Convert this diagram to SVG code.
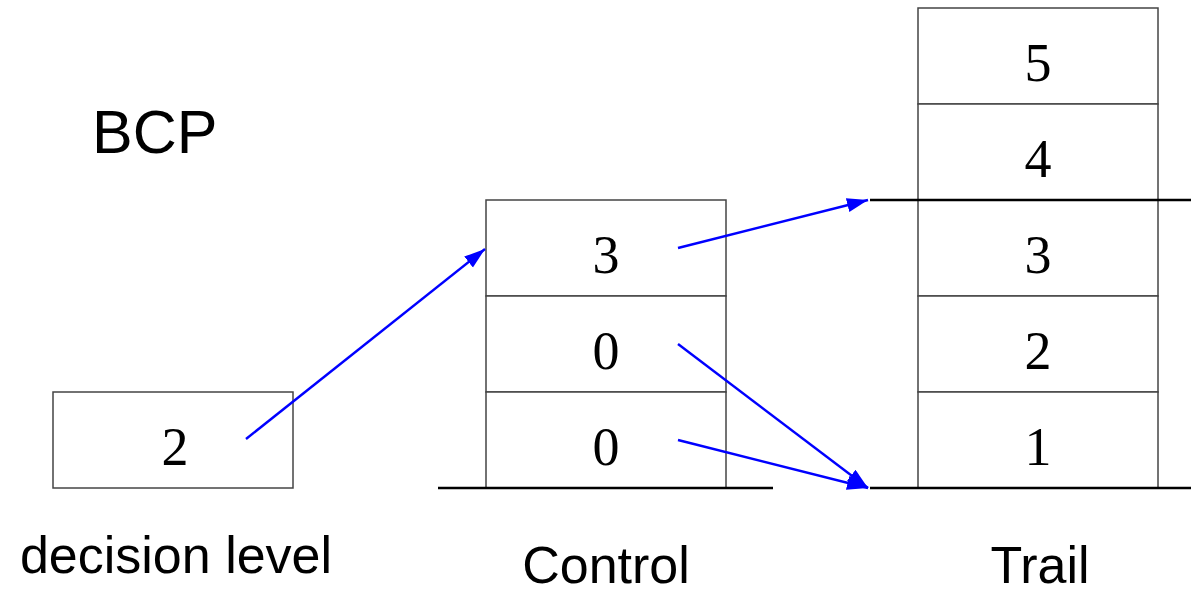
<svg xmlns="http://www.w3.org/2000/svg" width="1191" height="592" viewBox="0 0 1191 592">
  <style>
    .box { fill: #ffffff; stroke: #444444; stroke-width: 1.5; }
    .base { stroke: #000000; stroke-width: 2.5; fill: none; }
    .num { font-family: "Liberation Serif", "Times New Roman", serif; font-size: 54px; fill: #000000; text-anchor: middle; }
    .lbl { font-family: "Liberation Sans", Arial, sans-serif; font-size: 52px; fill: #000000; text-anchor: middle; }
    .arrow { stroke: #0000ff; stroke-width: 2.4; fill: none; marker-end: url(#ah); }
  </style>
  <defs>
    <marker id="ah" markerUnits="userSpaceOnUse" markerWidth="24" markerHeight="16" refX="21" refY="7" orient="auto">
      <path d="M0,0 L21,7 L0,14 z" fill="#0000ff"/>
    </marker>
  </defs>
  <rect width="1191" height="592" fill="#ffffff"/>

  <text id="bcp" x="92" y="153" font-family="Liberation Sans, Arial, sans-serif" font-size="61" fill="#000000">BCP</text>

  <g id="decision-level">
    <rect class="box" x="53" y="392" width="240" height="96"/>
    <text class="num" x="175" y="465">2</text>
    <text class="lbl" x="176" y="573">decision level</text>
  </g>

  <g id="control">
    <rect class="box" x="486" y="200" width="240" height="96"/>
    <text class="num" x="606" y="273">3</text>
    <rect class="box" x="486" y="296" width="240" height="96"/>
    <text class="num" x="606" y="369">0</text>
    <rect class="box" x="486" y="392" width="240" height="96"/>
    <text class="num" x="606" y="465">0</text>
    <line class="base" x1="438" y1="488" x2="773" y2="488"/>
    <text class="lbl" x="606" y="583">Control</text>
  </g>

  <g id="trail">
    <rect class="box" x="918" y="8" width="240" height="96"/>
    <text class="num" x="1038" y="81">5</text>
    <rect class="box" x="918" y="104" width="240" height="96"/>
    <text class="num" x="1038" y="177">4</text>
    <rect class="box" x="918" y="200" width="240" height="96"/>
    <text class="num" x="1038" y="273">3</text>
    <rect class="box" x="918" y="296" width="240" height="96"/>
    <text class="num" x="1038" y="369">2</text>
    <rect class="box" x="918" y="392" width="240" height="96"/>
    <text class="num" x="1038" y="465">1</text>
    <line class="base" x1="870" y1="200" x2="1191" y2="200"/>
    <line class="base" x1="870" y1="488" x2="1191" y2="488"/>
    <text class="lbl" x="1040" y="583">Trail</text>
  </g>

  <g id="connectors">
    <line class="arrow" x1="246" y1="439" x2="485" y2="249"/>
    <line class="arrow" x1="678" y1="248" x2="868" y2="200"/>
    <line class="arrow" x1="678" y1="344" x2="868" y2="488"/>
    <line class="arrow" x1="678" y1="440" x2="868" y2="488"/>
  </g>
</svg>
